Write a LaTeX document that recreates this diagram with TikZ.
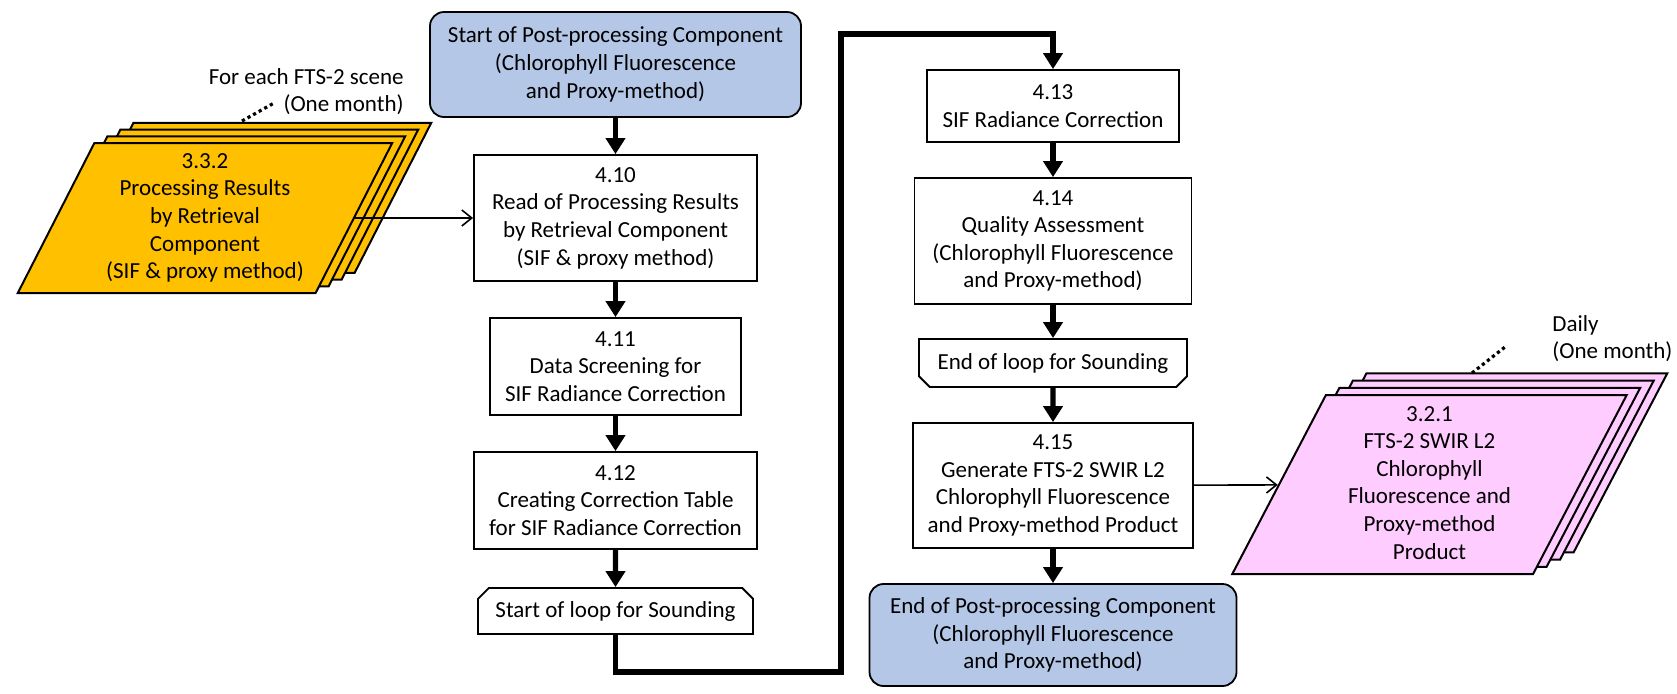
\documentclass[tikz,border=0pt]{standalone}
\usepackage{fontspec}
\setmainfont{Carlito}
\usepackage{tikz}
\usetikzlibrary{arrows.meta}
\usetikzlibrary{shapes.geometric}
\usetikzlibrary{shapes.misc}
\definecolor{termblue}{HTML}{B4C7E7}
\definecolor{resyellow}{HTML}{FFC000}
\definecolor{prodpink}{HTML}{FFCCFF}
\newsavebox{\retrbox}
\newsavebox{\prodbox}
\tikzset{
  stepbox/.style={rectangle, draw=black, line width=0.9pt, fill=white, align=center, inner sep=0pt},
  termbox/.style={rectangle, rounded corners=7pt, draw=black, line width=0.9pt, fill=termblue, align=center, inner sep=0pt, minimum width=185.5pt, minimum height=52.5pt},
  loopbox/.style={chamfered rectangle, chamfered rectangle xsep=2.2pt, draw=black, line width=0.9pt, fill=white, inner sep=0pt},
  retrsheet/.style={trapezium, trapezium left angle=64, trapezium right angle=116, trapezium stretches=true, minimum width=187.5pt, minimum height=75pt, draw=black, line width=1pt, fill=resyellow, inner sep=2pt},
  prodsheet/.style={trapezium, trapezium left angle=66, trapezium right angle=114, trapezium stretches=true, minimum width=197.5pt, minimum height=89.5pt, draw=black, line width=1pt, fill=prodpink, inner sep=2pt},
  flow/.style={-{Triangle[width=9.5pt,length=8pt]}, line width=2.6pt},
  feed/.style={-{Straight Barb[width=8pt,length=5pt]}, line width=0.8pt},
  callout/.style={line width=1.6pt, dash pattern=on 1.6pt off 1.6pt},
  lbl/.style={inner sep=0pt}
}
\begin{document}
\sbox{\retrbox}{\fontsize{11.5}{13.8}\selectfont\begin{tabular}{@{}c@{}}3.3.2\\Processing Results\\by Retrieval\\Component\\(SIF \& proxy method)\end{tabular}}%
\sbox{\prodbox}{\fontsize{11.5}{13.8}\selectfont\begin{tabular}{@{}c@{}}3.2.1\\FTS-2 SWIR L2\\Chlorophyll\\Fluorescence and\\Proxy-method\\Product\end{tabular}}%
\begin{tikzpicture}[x=0.5pt, y=-0.5pt, font=\fontsize{11.5}{13.8}\selectfont]
\useasboundingbox (0,0) rectangle (1677,693);
\foreach \k in {3,2,1}
  \node [retrsheet] (retr\k) at (205+13*\k, 218-6.7*\k) {\phantom{\usebox{\retrbox}}};
\node [retrsheet] (retr) at (205, 218) {\usebox{\retrbox}};
\node [lbl, anchor=east, align=right] (scenelbl) at (404, 91.5) {For each FTS-2 scene\\(One month)};
\coordinate (scenetip) at (242, 121);
\coordinate (scenedot) at (274, 103);
\draw [callout] (scenetip) -- (scenedot);
\node [termbox] (start) at (615.5, 64.5) {Start of Post-processing Component\\(Chlorophyll Fluorescence\\and Proxy-method)};
\node [stepbox, minimum width=141.5pt, minimum height=63pt] (b410) at (615.5, 218) {4.10\\Read of Processing Results\\by Retrieval Component\\(SIF \& proxy method)};
\node [stepbox, minimum width=125.5pt, minimum height=48.5pt] (b411) at (615.5, 366.5) {4.11\\Data Screening for\\SIF Radiance Correction};
\node [stepbox, minimum width=141.5pt, minimum height=48.5pt] (b412) at (615.5, 500.5) {4.12\\Creating Correction Table\\for SIF Radiance Correction};
\node [loopbox, chamfered rectangle corners={north west, north east}, minimum width=137.5pt, minimum height=23pt] (sloop) at (615.5, 611) {Start of loop for Sounding};
\node [stepbox, minimum width=126pt, minimum height=36pt] (b413) at (1053, 106) {4.13\\SIF Radiance Correction};
\node [stepbox, minimum width=138.5pt, minimum height=63pt] (b414) at (1053, 241) {4.14\\Quality Assessment\\(Chlorophyll Fluorescence\\and Proxy-method)};
\node [loopbox, chamfered rectangle corners={south west, south east}, minimum width=134pt, minimum height=24pt] (eloop) at (1053, 363) {End of loop for Sounding};
\node [stepbox, minimum width=140pt, minimum height=62.5pt] (b415) at (1053, 485.5) {4.15\\Generate FTS-2 SWIR L2\\Chlorophyll Fluorescence\\and Proxy-method Product};
\node [termbox, minimum width=183.5pt, minimum height=51pt] (stop) at (1053, 635) {End of Post-processing Component\\(Chlorophyll Fluorescence\\and Proxy-method)};
\foreach \k in {3,2,1}
  \node [prodsheet] (prod\k) at (1429.5+13.5*\k, 484.5-7.2*\k) {\phantom{\usebox{\prodbox}}};
\node [prodsheet] (prod) at (1429.5, 484.5) {\usebox{\prodbox}};
\node [lbl, anchor=west, align=left] (dailylbl) at (1552, 338.5) {Daily\\(One month)};
\coordinate (prodtip) at (1472, 373);
\coordinate (proddot) at (1505, 347);
\draw [callout] (prodtip) -- (proddot);
\coordinate (loopbot) at (841, 672);
\coordinate (looptop) at (841, 34);
\draw [flow] (start) -- (b410);
\draw [flow] (b410) -- (b411);
\draw [flow] (b411) -- (b412);
\draw [flow] (b412) -- (sloop);
\draw [flow] (sloop.south) |- (loopbot) -- (looptop) -| (b413.north);
\draw [flow] (b413) -- (b414);
\draw [flow] (b414) -- (eloop);
\draw [flow] (eloop) -- (b415);
\draw [flow] (b415) -- (stop);
\draw [feed] (retr) -- (b410);
\draw [feed] (b415) -- (prod);
\end{tikzpicture}
\end{document}
